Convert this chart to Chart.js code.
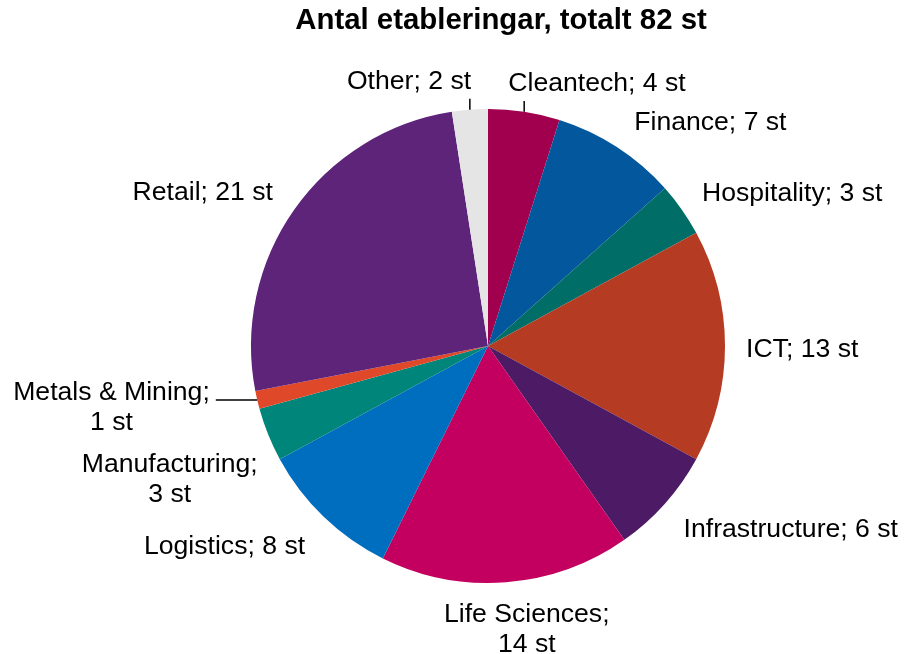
<!DOCTYPE html>
<html>
<head>
<meta charset="utf-8">
<script src="https://cdn.jsdelivr.net/npm/chart.js@4.4.1/dist/chart.umd.min.js"></script>
<style>
  html, body { margin: 0; padding: 0; background: #fff; }
  canvas { display: block; }
</style>
</head>
<body>
<canvas id="pieChart" width="904" height="654"></canvas>
<script>
const titleText = "Antal etableringar, totalt 82 st";
const unit = "st";
const categories = ["Cleantech", "Finance", "Hospitality", "ICT", "Infrastructure", "Life Sciences",
  "Logistics", "Manufacturing", "Metals & Mining", "Retail", "Other"];
const counts = [4, 7, 3, 13, 6, 14, 8, 3, 1, 21, 2];
const colors = ["#A1004F", "#02579D", "#006E66", "#B53C23", "#4D1B66", "#C3005F",
  "#006EBE", "#00857A", "#E0482A", "#5E2479", "#E5E5E5"];

// small label shifts (dx, dy) to match Excel's placement; some get a leader line
const labelNudge = [[29, 8], [6, 8], [3, 11], [0, 4], [3, -3], [0, -4],
  [-4, 0], [9, 7], [-27, -18], [-4, 10], [-45, 8]];
const hasLeader = [true, false, false, false, false, false,
  false, false, true, false, true];

const labelFont = "26.6px 'Liberation Sans', Arial, sans-serif";
const lineH = 30;

const pieLabels = {
  id: "pieLabels",
  afterDraw(chart) {
    const ctx = chart.ctx;
    const meta = chart.getDatasetMeta(0);
    ctx.save();
    ctx.fillStyle = "#000";
    ctx.strokeStyle = "#000";
    ctx.lineWidth = 1.5;
    ctx.textBaseline = "middle";
    ctx.textAlign = "center";

    ctx.font = "bold 29.4px 'Liberation Sans', Arial, sans-serif";
    ctx.fillText(titleText, 501, 21);

    ctx.font = labelFont;
    meta.data.forEach((arc, i) => {
      const p = arc.getProps(["x", "y", "startAngle", "endAngle", "outerRadius"], true);
      const mid = (p.startAngle + p.endAngle) / 2;
      const dx = Math.cos(mid), dy = Math.sin(mid);
      const ax = p.x + dx * (p.outerRadius + 21);
      const ay = p.y + dy * (p.outerRadius + 21);

      const full = categories[i] + "; " + counts[i] + " " + unit;
      let lines = [full];
      if (ctx.measureText(full).width > 222) {
        lines = [categories[i] + ";", counts[i] + " " + unit];
      }
      const w = Math.max(...lines.map(l => ctx.measureText(l).width));
      const h = lines.length * lineH;
      const s = Math.max(-1, Math.min(1, dx * 3));
      const v = Math.max(-1, Math.min(1, dy * 3));
      const left = ax - w * (1 - s) / 2 + labelNudge[i][0];
      const top = ay - h * (1 - v) / 2 + labelNudge[i][1];

      lines.forEach((l, k) => ctx.fillText(l, left + w / 2, top + lineH / 2 + k * lineH));

      if (hasLeader[i]) {
        const ex = p.x + dx * p.outerRadius;
        const ey = p.y + dy * p.outerRadius;
        ctx.beginPath();
        ctx.moveTo(ex, ey);
        if (Math.abs(dy) > Math.abs(dx)) {
          ctx.lineTo(ex, dy < 0 ? top + h + 2 : top - 2);
        } else {
          ctx.lineTo(dx < 0 ? left + w + 6 : left - 6, ey);
        }
        ctx.stroke();
      }
    });
    ctx.restore();
  }
};

new Chart(document.getElementById("pieChart").getContext("2d"), {
  type: "pie",
  data: {
    labels: categories,
    datasets: [{
      data: counts,
      backgroundColor: colors,
      borderWidth: 0
    }]
  },
  options: {
    responsive: false,
    animation: false,
    layout: { padding: { left: 251, right: 179, top: 109, bottom: 71 } },
    plugins: {
      legend: { display: false },
      title: { display: false },
      tooltip: { enabled: false }
    }
  },
  plugins: [pieLabels]
});
</script>
</body>
</html>
